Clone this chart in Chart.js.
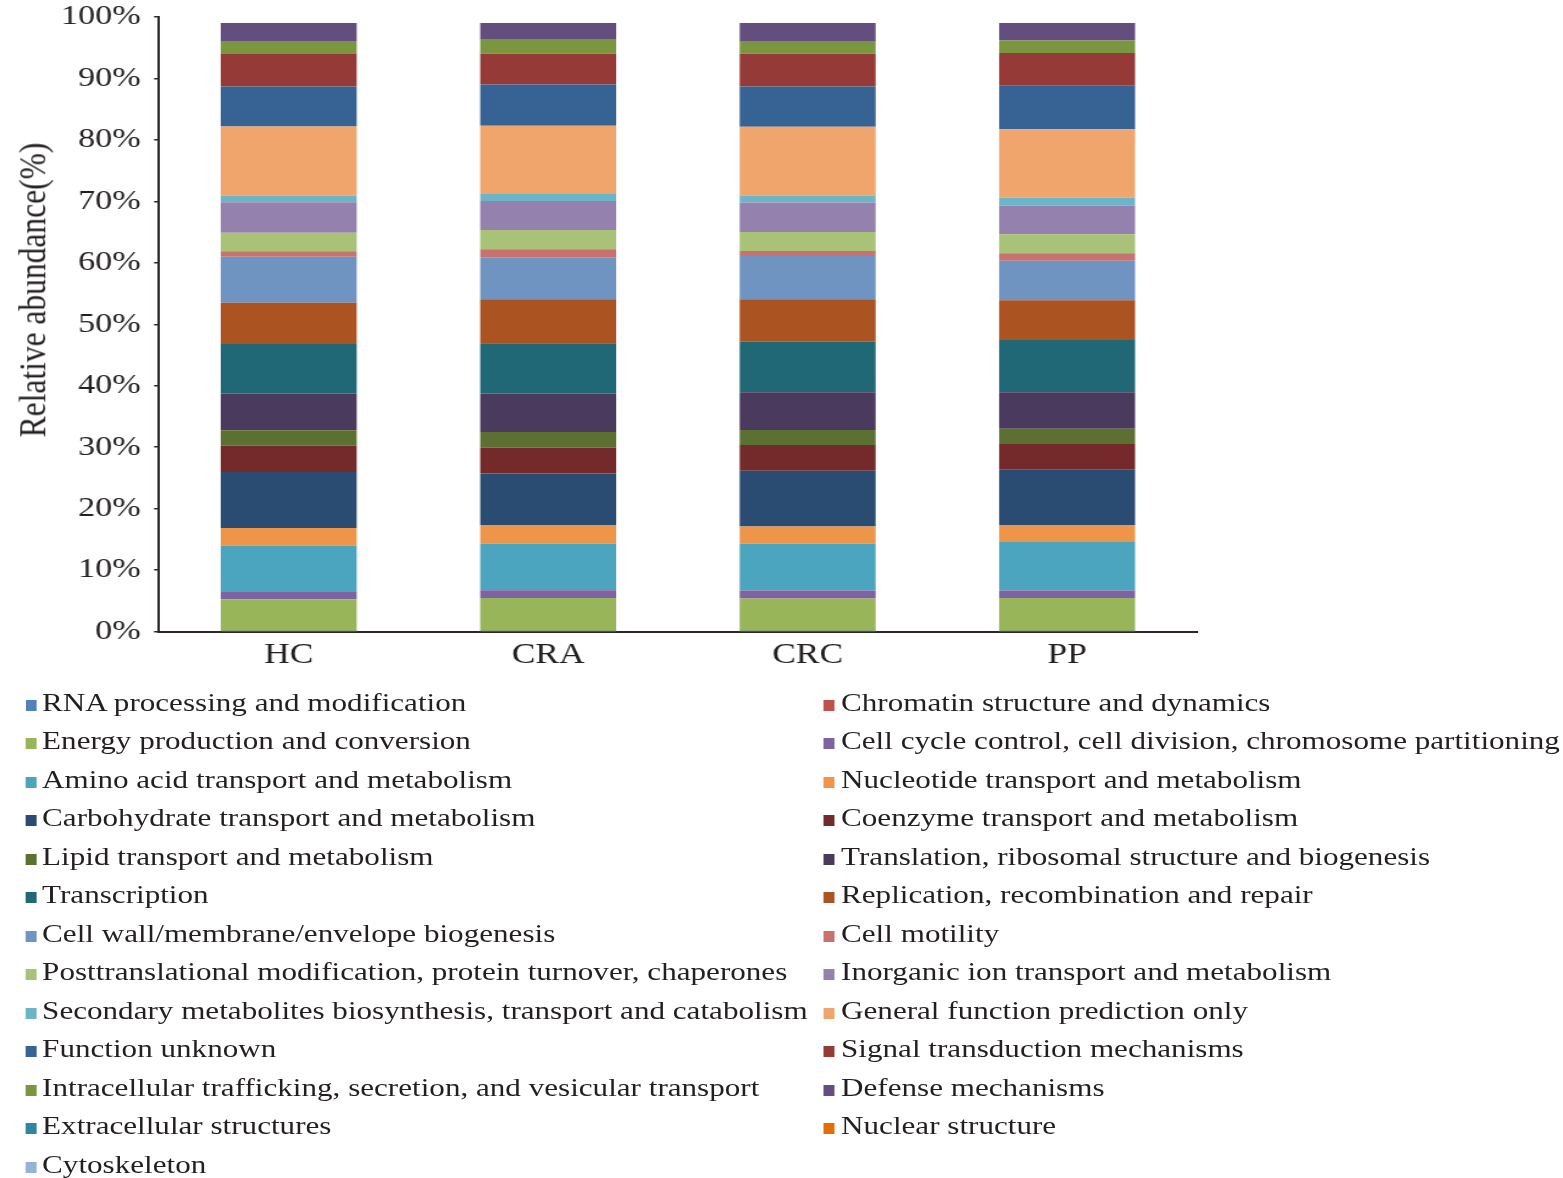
<!DOCTYPE html>
<html>
<head>
<meta charset="utf-8">
<title>COG functional categories – relative abundance</title>
<script src="https://cdn.jsdelivr.net/npm/chart.js@4/dist/chart.umd.min.js"></script>
<style>
  html, body { margin: 0; padding: 0; background: #ffffff; }
  body { width: 1563px; height: 1178px; overflow: hidden; position: relative; }
  /* the whole figure is laid out narrow and widened horizontally */
  #stage {
    position: absolute; left: 0; top: 0;
    width: 1281px; height: 1178px;
    transform: scaleX(1.22); transform-origin: 0 0;
  }
  #chart { position: absolute; left: 0; top: 0; width: 1281px; height: 690px; }
  #ytitle {
    position: absolute; left: 27px; top: 290px;
    transform: translate(-50%, -50%) rotate(-90deg);
    font-family: "Liberation Serif", "Times New Roman", serif;
    font-size: 31.5px; color: #231f20; white-space: nowrap; line-height: 1;
  }
  .lg {
    position: absolute;
    font-family: "Liberation Serif", "Times New Roman", serif;
    font-size: 25.5px; line-height: 1; color: #231f20; white-space: nowrap;
  }
  .lg .sw {
    display: inline-block; width: 9px; height: 11px;
    margin-right: 5px; vertical-align: baseline;
  }
</style>
</head>
<body>
<div id="stage">
  <canvas id="chart" width="1281" height="690"></canvas>
  <div id="ytitle">Relative abundance(%)</div>
  <div id="legend"></div>
</div>
<script>
// Sample groups on the x axis
const groups = ['HC', 'CRA', 'CRC', 'PP'];

// COG functional categories, in stacking order (bottom to top)
const cogNames = [
  'RNA processing and modification',
  'Chromatin structure and dynamics',
  'Energy production and conversion',
  'Cell cycle control, cell division, chromosome partitioning',
  'Amino acid transport and metabolism',
  'Nucleotide transport and metabolism',
  'Carbohydrate transport and metabolism',
  'Coenzyme transport and metabolism',
  'Lipid transport and metabolism',
  'Translation, ribosomal structure and biogenesis',
  'Transcription',
  'Replication, recombination and repair',
  'Cell wall/membrane/envelope biogenesis',
  'Cell motility',
  'Posttranslational modification, protein turnover, chaperones',
  'Inorganic ion transport and metabolism',
  'Secondary metabolites biosynthesis, transport and catabolism',
  'General function prediction only',
  'Function unknown',
  'Signal transduction mechanisms',
  'Intracellular trafficking, secretion, and vesicular transport',
  'Defense mechanisms',
  'Extracellular structures',
  'Nuclear structure',
  'Cytoskeleton'
];

const cogColors = [
  '#4f81bd', '#c0504d', '#98b55a', '#7e62a1', '#4ba5be', '#ee9549',
  '#2b4c72', '#742a2a', '#5c7131', '#4a3a5e', '#206876', '#ab5422',
  '#7094c2', '#c8716f', '#aac178', '#9581ae', '#6cb4c8', '#efa56b',
  '#366394', '#963a37', '#7a963f', '#634e7e', '#31859c', '#e46c0a',
  '#95b3d7'
];

// Relative abundance (%) of each category, same order as cogNames
const hcValues  = [0.01, 0.03, 5.21, 1.19, 7.56, 2.86, 9.08, 4.28, 2.51, 6.02, 8.03, 6.73, 7.49, 0.88, 3.03, 4.95, 1.08, 11.23, 6.52, 5.27, 2.12, 2.93, 0.01, 0.00, 0.01];
const craValues = [0.01, 0.03, 5.42, 1.26, 7.60, 3.03, 8.37, 4.24, 2.49, 6.30, 8.15, 7.16, 6.84, 1.31, 3.14, 4.72, 1.14, 11.08, 6.72, 5.00, 2.28, 2.72, 0.01, 0.00, 0.01];
const crcValues = [0.01, 0.03, 5.33, 1.30, 7.59, 2.83, 9.06, 4.18, 2.45, 6.14, 8.24, 6.90, 7.05, 0.82, 3.09, 4.78, 1.14, 11.18, 6.57, 5.32, 1.96, 3.04, 0.01, 0.00, 0.01];
const ppValues  = [0.01, 0.03, 5.42, 1.21, 7.91, 2.77, 9.07, 4.08, 2.49, 5.93, 8.51, 6.47, 6.45, 1.20, 3.10, 4.66, 1.30, 11.14, 7.05, 5.33, 2.05, 2.83, 0.01, 0.00, 0.01];

// Y axis tick values
const yTicks = [0, 10, 20, 30, 40, 50, 60, 70, 80, 90, 100];

const groupValues = [hcValues, craValues, crcValues, ppValues];
const inkColor = '#231f20';
const axisColor = '#2e2626';
const serif = '"Liberation Serif", "Times New Roman", serif';

const datasets = cogNames.map((name, i) => ({
  label: name,
  data: groupValues.map(vals => vals[i]),
  backgroundColor: cogColors[i],
  borderWidth: 0,
  categoryPercentage: 1.0,
  barPercentage: 0.524
}));

const chart = new Chart(document.getElementById('chart'), {
  type: 'bar',
  data: { labels: groups, datasets },
  options: {
    responsive: false,
    animation: false,
    devicePixelRatio: 1,
    layout: { padding: { left: 0, right: 300, top: 17, bottom: 10.5 } },
    plugins: {
      legend: { display: false },
      tooltip: { enabled: false }
    },
    scales: {
      x: {
        stacked: true,
        grid: { display: true, drawOnChartArea: false, drawTicks: false, tickLength: 0 },
        border: { display: true, color: axisColor, width: 2 },
        ticks: {
          color: inkColor,
          font: { family: serif, size: 29 },
          padding: 6,
          maxRotation: 0
        },
        afterFit(scale) { scale.height = 48; }
      },
      y: {
        stacked: true,
        min: 0,
        max: 100,
        afterBuildTicks(scale) { scale.ticks = yTicks.map(v => ({ value: v })); },
        grid: {
          display: true, drawOnChartArea: false, drawTicks: true,
          tickLength: 4, color: axisColor, lineWidth: 1.5
        },
        border: { display: true, color: axisColor, width: 2 },
        ticks: {
          color: inkColor,
          font: { family: serif, size: 28 },
          padding: 11,
          callback: v => v + '%'
        },
        afterFit(scale) {
          scale.width = 130.3;
          // let the top label sit in the margin instead of shrinking the plot
          scale.paddingTop = 0;
          scale.paddingBottom = 0;
        }
      }
    }
  }
});

// Two-column legend built from the chart's datasets
const legendEl = document.getElementById('legend');
const rowTop = 689.5;
const rowStep = 38.5;
const colX = [20.5, 675.4];
chart.data.datasets.forEach((ds, i) => {
  const col = i % 2;
  const row = Math.floor(i / 2);
  const item = document.createElement('div');
  item.className = 'lg';
  item.style.left = colX[col] + 'px';
  item.style.top = (rowTop + row * rowStep) + 'px';
  const sw = document.createElement('span');
  sw.className = 'sw';
  sw.style.background = ds.backgroundColor;
  item.appendChild(sw);
  item.appendChild(document.createTextNode(ds.label));
  legendEl.appendChild(item);
});
</script>
</body>
</html>
